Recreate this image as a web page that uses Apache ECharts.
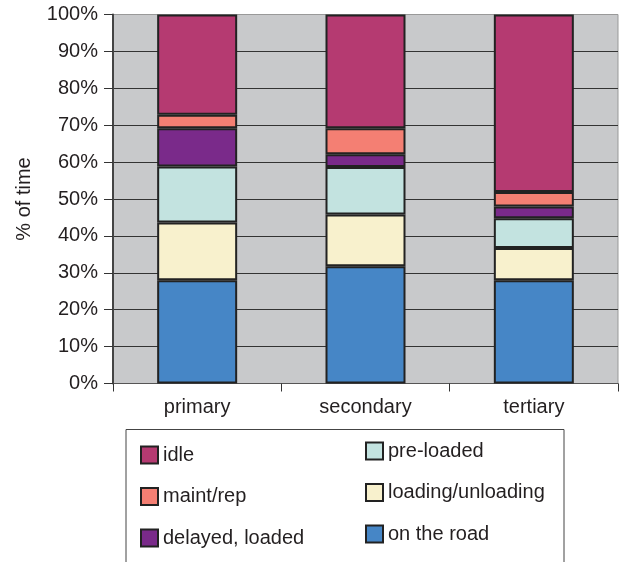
<!DOCTYPE html>
<html>
<head>
<meta charset="utf-8">
<script src="https://cdn.jsdelivr.net/npm/echarts@6/dist/echarts.min.js"></script>
<style>
html,body{margin:0;padding:0;background:#fff;}
#c{width:623px;height:562px;}
</style>
</head>
<body>
<div id="c"></div>
<script>
var categories = ['primary', 'secondary', 'tertiary'];
var onTheRoad = [28.0, 31.8, 28.0];
var loadingUnloading = [15.6, 14.0, 8.7];
var preLoaded = [15.2, 12.9, 8.1];
var delayedLoaded = [10.4, 3.4, 3.2];
var maintRep = [3.6, 7.1, 3.9];
var idle = [27.2, 30.8, 48.1];
var yTicks = [0, 10, 20, 30, 40, 50, 60, 70, 80, 90, 100];

var seriesDefs = [
  {name: 'on the road', data: onTheRoad, color: '#4686c6'},
  {name: 'loading/unloading', data: loadingUnloading, color: '#f8f1cd'},
  {name: 'pre-loaded', data: preLoaded, color: '#c3e3e0'},
  {name: 'delayed, loaded', data: delayedLoaded, color: '#7a2a8a'},
  {name: 'maint/rep', data: maintRep, color: '#f47f73'},
  {name: 'idle', data: idle, color: '#b53a71'}
];

var font = '"Liberation Sans", Arial, sans-serif';
var textColor = '#231f20';

var splitColors = yTicks.map(function (v, i) { return i === yTicks.length - 1 ? '#999' : '#333'; });

var chart = echarts.init(document.getElementById('c'), null, {renderer: 'canvas'});
chart.setOption({
  animation: false,
  backgroundColor: '#fff',
  textStyle: {fontFamily: font, color: textColor},
  grid: {
    left: 113, right: 5, top: 14.5, bottom: 178.5,
    show: true, backgroundColor: '#c8c9cb', borderColor: '#999', borderWidth: 1
  },
  xAxis: {
    type: 'category',
    data: categories,
    boundaryGap: true,
    axisLine: {lineStyle: {color: '#555', width: 1}},
    axisTick: {show: true, length: 8, lineStyle: {color: '#333'}},
    axisLabel: {fontSize: 20, color: textColor, fontFamily: font, margin: 14}
  },
  yAxis: {
    type: 'value',
    min: 0, max: 100, interval: 10,
    name: '% of time',
    nameLocation: 'middle',
    nameRotate: 90,
    nameGap: 79,
    nameTextStyle: {fontSize: 20, color: textColor, fontFamily: font},
    axisLine: {show: true, lineStyle: {color: '#444', width: 2}},
    axisTick: {show: true, length: 9, lineStyle: {color: '#333'}},
    axisLabel: {fontSize: 20, color: textColor, fontFamily: font, margin: 15,
      formatter: function (v) { return v + '%'; }},
    splitLine: {show: true, lineStyle: {color: splitColors, width: 1}}
  },
  legend: [
    {
      orient: 'vertical', left: 135, top: 440,
      data: ['idle', 'maint/rep', 'delayed, loaded'],
      itemWidth: 17, itemHeight: 17, itemGap: 21.5,
      icon: 'rect',
      itemStyle: {borderColor: '#222', borderWidth: 2},
      textStyle: {fontSize: 20, color: textColor, fontFamily: font, lineHeight: 20}
    },
    {
      orient: 'vertical', left: 360, top: 436,
      data: ['pre-loaded', 'loading/unloading', 'on the road'],
      itemWidth: 17, itemHeight: 17, itemGap: 21.5,
      icon: 'rect',
      itemStyle: {borderColor: '#222', borderWidth: 2},
      textStyle: {fontSize: 20, color: textColor, fontFamily: font, lineHeight: 20}
    }
  ],
  graphic: [{
    type: 'rect', silent: true, z: -1,
    shape: {x: 126, y: 429.5, width: 438, height: 200},
    style: {fill: 'none', stroke: '#444', lineWidth: 1}
  }],
  series: seriesDefs.map(function (s) {
    return {
      name: s.name,
      type: 'bar',
      stack: 'total',
      data: s.data,
      barWidth: 80,
      itemStyle: {color: s.color, borderColor: '#222', borderWidth: 2}
    };
  })
});
</script>
</body>
</html>
